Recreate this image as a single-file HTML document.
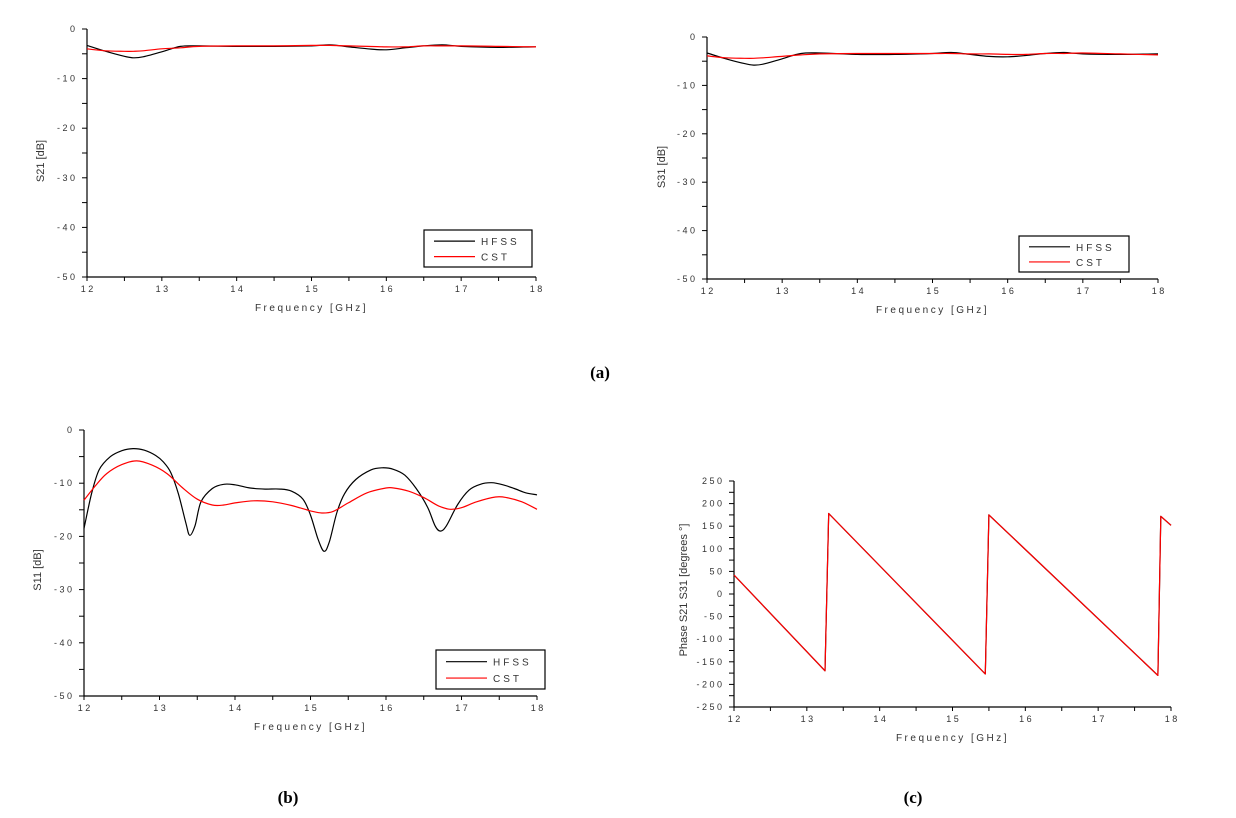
<!DOCTYPE html>
<html><head><meta charset="utf-8"><style>
body{margin:0;background:#fff;width:1236px;height:818px;overflow:hidden}
svg{display:block}
text{font-family:"Liberation Sans",sans-serif}
.cap{font-family:"Liberation Serif",serif;font-weight:bold;font-size:17px}
</style></head><body>
<svg id="fig" width="1236" height="818">
<text class="cap" x="600" y="378" text-anchor="middle">(a)</text>
<text class="cap" x="288" y="803" text-anchor="middle">(b)</text>
<text class="cap" x="913" y="803" text-anchor="middle">(c)</text>
</svg>
<script>
const freqTicks=[12,13,14,15,16,17,18];
const s21Freq=[12,12.25,12.5,12.62,12.75,13,13.25,13.5,14,14.5,15,15.25,15.5,15.75,16,16.25,16.5,16.75,17,17.5,18];
const s21Hfss=[-3.3,-4.5,-5.5,-5.8,-5.6,-4.6,-3.5,-3.4,-3.5,-3.5,-3.4,-3.2,-3.6,-4.0,-4.2,-3.8,-3.4,-3.2,-3.5,-3.7,-3.6];
const s21Cst=[-4.0,-4.4,-4.5,-4.5,-4.4,-4.0,-3.8,-3.5,-3.4,-3.4,-3.3,-3.3,-3.4,-3.5,-3.6,-3.6,-3.4,-3.4,-3.4,-3.5,-3.6];
const s31Hfss=[-3.3,-4.5,-5.5,-5.8,-5.6,-4.5,-3.4,-3.3,-3.6,-3.6,-3.4,-3.2,-3.6,-4.0,-4.1,-3.8,-3.4,-3.2,-3.5,-3.6,-3.5];
const s31Cst=[-3.9,-4.3,-4.4,-4.4,-4.3,-4.0,-3.7,-3.5,-3.4,-3.4,-3.4,-3.4,-3.5,-3.5,-3.6,-3.6,-3.4,-3.4,-3.3,-3.5,-3.7];
const s11HfssFreq=[12,12.1,12.2,12.35,12.5,12.65,12.8,12.95,13.05,13.15,13.25,13.35,13.4,13.47,13.55,13.7,13.85,14,14.2,14.4,14.6,14.75,14.9,15,15.1,15.18,15.25,15.35,15.45,15.6,15.8,15.95,16.1,16.25,16.4,16.55,16.65,16.72,16.8,16.95,17.1,17.25,17.4,17.55,17.7,17.85,18];
const s11Hfss=[-18.5,-12,-7.5,-5,-3.9,-3.5,-3.8,-4.8,-6,-8,-12,-17.5,-19.8,-18,-13.5,-11,-10.2,-10.3,-10.9,-11.1,-11.1,-11.5,-13,-16,-20.5,-22.8,-21,-15.5,-12,-9.3,-7.5,-7.1,-7.4,-8.5,-11,-14.5,-18,-19,-18,-14,-11.3,-10.2,-9.9,-10.3,-11,-11.8,-12.2];
const s11CstFreq=[12,12.15,12.3,12.5,12.7,12.9,13.1,13.3,13.5,13.7,13.85,14,14.25,14.5,14.75,15,15.15,15.3,15.5,15.75,16,16.1,16.3,16.5,16.7,16.85,17,17.2,17.45,17.6,17.8,18];
const s11Cst=[-13.2,-10.5,-8.2,-6.5,-5.8,-6.6,-8.2,-10.8,-13,-14.1,-14.1,-13.7,-13.3,-13.5,-14.2,-15.2,-15.6,-15.3,-13.7,-11.8,-10.9,-10.9,-11.5,-12.7,-14.3,-14.9,-14.6,-13.5,-12.6,-12.7,-13.5,-14.9];
const phaseFreq=[12,13.25,13.3,15.45,15.5,17.82,17.86,18];
const phaseVals=[42,-170,178,-177,175,-180,172,152];
const dbTicks=[0,-10,-20,-30,-40,-50];
const phaseTicks=[250,200,150,100,50,0,-50,-100,-150,-200,-250];

const NS='http://www.w3.org/2000/svg';
const fig=document.getElementById('fig');
function mk(tag,attrs,parent){const e=document.createElementNS(NS,tag);for(const k in attrs)e.setAttribute(k,attrs[k]);parent.appendChild(e);return e;}
function spaced(s){return s.split('').join(' ');}
function smoothPath(pts){
  let d='M'+pts[0][0].toFixed(1)+','+pts[0][1].toFixed(1);
  for(let i=0;i<pts.length-1;i++){
    const p0=pts[Math.max(0,i-1)],p1=pts[i],p2=pts[i+1],p3=pts[Math.min(pts.length-1,i+2)];
    const c1=[p1[0]+(p2[0]-p0[0])/6,p1[1]+(p2[1]-p0[1])/6];
    const c2=[p2[0]-(p3[0]-p1[0])/6,p2[1]-(p3[1]-p1[1])/6];
    d+='C'+c1[0].toFixed(1)+','+c1[1].toFixed(1)+' '+c2[0].toFixed(1)+','+c2[1].toFixed(1)+' '+p2[0].toFixed(1)+','+p2[1].toFixed(1);
  }
  return d;
}

function chart(o){
  const g=mk('g',{},fig);
  
  
  const X=v=>o.x0+(v-12)/6*(o.x1-o.x0);
  const Y=v=>o.y0+(o.ymax-v)/(o.ymax-o.ymin)*(o.y1-o.y0);
  const ax=mk('path',{d:`M${o.x0},${o.y0}V${o.y1}H${o.x1}`,stroke:'#000','stroke-width':1.2,fill:'none'},g);
  
  
  for(let v=12;v<=18.001;v+=0.5){mk('line',{x1:X(v),x2:X(v),y1:o.y1,y2:o.y1+4,stroke:'#000'},g);}
  freqTicks.forEach(v=>{const t=mk('text',{x:X(v),y:o.y1+15,'font-size':9,'text-anchor':'middle',fill:'#333'},g);t.textContent=spaced(String(v));
    
    });
  const step=(o.yticks[0]-o.yticks[1])/2;
  for(let v=o.ymin;v<=o.ymax+0.001;v+=step){mk('line',{x1:o.x0-5,x2:o.x0,y1:Y(v),y2:Y(v),stroke:'#000'},g);}
  o.yticks.forEach(v=>{const t=mk('text',{x:o.x0-12,y:Y(v)+3,'font-size':9,'text-anchor':'end',fill:'#333'},g);t.textContent=spaced(String(v));
    
    });
  const xt=mk('text',{x:(o.x0+o.x1)/2,y:o.y1+34,'font-size':10,'text-anchor':'middle','letter-spacing':'2.5',fill:'#333'},g);
  xt.textContent='Frequency [GHz]';
  
  
  const yt=mk('text',{x:0,y:0,'font-size':11,'text-anchor':'middle',fill:'#333',transform:`translate(${o.ytx},${o.yty}) rotate(-90)`},g);
  yt.textContent=o.ytitle;
  
  
  o.series.forEach(s=>{
    const pts=s.f.map((f,i)=>[X(f),Y(s.v[i])]);
    const d=o.smooth?smoothPath(pts):pts.map((p,i)=>(i?'L':'M')+p[0].toFixed(1)+','+p[1].toFixed(1)).join('');
    const p=mk('path',{d:d,stroke:s.c,'stroke-width':1.2,fill:'none','stroke-linejoin':'round'},g);
    
    
  });
  if(o.leg){
    const L=o.leg;
    const lg=mk('g',{},g);
    
    
    mk('rect',{x:L[0],y:L[1],width:L[2]-L[0],height:L[3]-L[1],fill:'#fff',stroke:'#000','stroke-width':1.2},lg);
    const h=(L[3]-L[1]);
    [['HFSS','#000'],['CST','#ff0000']].forEach((e,i)=>{
      const yy=L[1]+h*(i?0.72:0.3);
      mk('line',{x1:L[0]+10,x2:L[0]+51,y1:yy,y2:yy,stroke:e[1],'stroke-width':1.2},lg);
      const t=mk('text',{x:L[0]+57,y:yy+4,'font-size':10,'letter-spacing':'3',fill:'#333'},lg);
      t.textContent=e[0];
      
      
    });
  }
}
chart({name:'s21-chart',smooth:true,x0:87,x1:536,y0:29,y1:277,ymin:-50,ymax:0,yticks:dbTicks,ytitle:'S21 [dB]',ytx:44,yty:161,leg:[424,230,532,267],
  series:[{name:'s21-hfss-line',f:s21Freq,v:s21Hfss,c:'#000'},{name:'s21-cst-line',f:s21Freq,v:s21Cst,c:'#ff0000'}]});
chart({name:'s31-chart',smooth:true,x0:707,x1:1158,y0:37,y1:279,ymin:-50,ymax:0,yticks:dbTicks,ytitle:'S31 [dB]',ytx:665,yty:167,leg:[1019,236,1129,272],
  series:[{name:'s31-hfss-line',f:s21Freq,v:s31Hfss,c:'#000'},{name:'s31-cst-line',f:s21Freq,v:s31Cst,c:'#ff0000'}]});
chart({name:'s11-chart',smooth:true,x0:84,x1:537,y0:430,y1:696,ymin:-50,ymax:0,yticks:dbTicks,ytitle:'S11 [dB]',ytx:41,yty:570,leg:[436,650,545,689],
  series:[{name:'s11-hfss-line',f:s11HfssFreq,v:s11Hfss,c:'#000'},{name:'s11-cst-line',f:s11CstFreq,v:s11Cst,c:'#ff0000'}]});
chart({name:'phase-chart',smooth:false,x0:734,x1:1171,y0:481,y1:707,ymin:-250,ymax:250,yticks:phaseTicks,ytitle:'Phase S21 S31 [degrees     °]',ytx:687,yty:590,leg:null,
  series:[{name:'phase-hfss-line',f:phaseFreq,v:phaseVals,c:'#000'},{name:'phase-cst-line',f:phaseFreq,v:phaseVals,c:'#ff0000'}]});
</script>
</body></html>
